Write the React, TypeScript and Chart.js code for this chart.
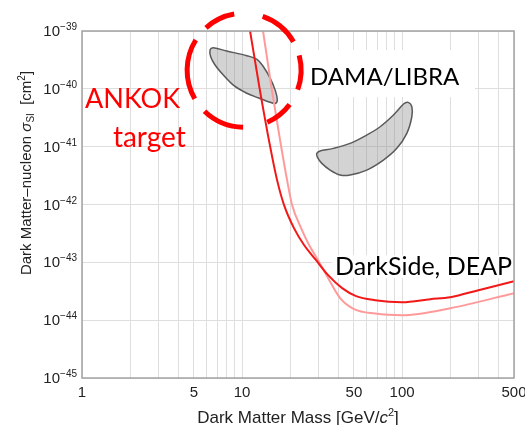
import { useEffect, useRef } from "react";
import { Chart, registerables } from "chart.js";

Chart.register(...registerables);

// Axis ticks: every integer multiple of a decade gets a grid line on the mass axis
const massGrid = [1, 2, 3, 4, 5, 6, 7, 8, 9, 10, 20, 30, 40, 50, 60, 70, 80, 90, 100, 200, 300, 400, 500];
const massLabels = [1, 5, 10, 50, 100, 500];
const sigmaDecades = [-45, -44, -43, -42, -41, -40, -39];

// Exclusion limits: WIMP mass [GeV/c^2] vs spin-independent cross section [cm^2]
const limitMass = [11.22, 12.86, 14.96, 16.55, 18.3, 21.1, 24.4, 29.0, 34.5, 42.2, 51.6, 67.8, 100, 150, 200, 300, 500];
const limitSigma = [1e-39, 1.03e-40, 1.02e-41, 2.64e-42, 9.77e-43, 3.91e-43, 1.99e-43, 1.09e-43, 6.0e-44, 3.58e-44, 2.6e-44, 2.22e-44, 2.05e-44, 2.31e-44, 2.5e-44, 3.3e-44, 4.73e-44];
const paleLimitMass = [13.52, 15.29, 17.53, 19.11, 20.54, 23.38, 26.23, 29.85, 34.5, 40.97, 50.1, 67.8, 100, 200, 500];
const paleLimitSigma = [1e-39, 1.03e-40, 1.02e-41, 2.64e-42, 9.77e-43, 3.91e-43, 1.99e-43, 1.09e-43, 5.33e-44, 2.4e-44, 1.55e-44, 1.3e-44, 1.22e-44, 1.61e-44, 2.93e-44];

// DAMA/LIBRA allowed regions (closed contours)
const damaLowMass = [6.31, 6.62, 8.02, 10.7, 12.4, 13.6, 15.0, 16.1, 16.6, 16.1, 14.6, 12.6, 10.7, 8.82, 7.64, 6.78, 6.37];
const damaLowSigma = [4.69e-40, 5.14e-40, 4.51e-40, 3.74e-40, 3.24e-40, 2.41e-40, 1.52e-40, 9.5e-41, 6.4e-41, 5.6e-41, 6.0e-41, 7.0e-41, 8.4e-41, 1.16e-40, 1.73e-40, 2.58e-40, 3.59e-40];
const damaHighMass = [29.3, 31.0, 37.2, 47.3, 60.1, 72.9, 88.3, 102, 109, 115, 115, 107, 92.7, 76.4, 60.1, 47.3, 41.0, 35.5, 31.5, 29.6];
const damaHighSigma = [7.66e-42, 8.5e-42, 9.35e-42, 1.14e-41, 1.59e-41, 2.21e-41, 3.52e-41, 5.46e-41, 5.84e-41, 4.9e-41, 3.29e-41, 1.7e-41, 9.35e-42, 5.86e-42, 3.94e-42, 3.23e-42, 3.23e-42, 3.94e-42, 5.14e-42, 6.53e-42];

// Highlighted target region (centre in data units)
const targetMass = [10.3];
const targetSigma = [2.1e-40];

// Annotations, anchored at the left end of the text baseline
const noteText = ["ANKOK", "target", "DAMA/LIBRA", "DarkSide, DEAP"];
const noteMass = [1.044, 1.56, 26.6, 38.1];
const noteSigma = [4.65e-41, 1.0e-41, 1.16e-40, 6.0e-44];

const SANS = '"Liberation Sans", Arial, sans-serif';
const NOTE = 'Lato, "Open Sans", sans-serif';
const RED = "#ff0000";

type Run = { t: string; f: string; dy?: number };

function runsWidth(ctx: CanvasRenderingContext2D, runs: Run[]) {
  let w = 0;
  for (const r of runs) {
    ctx.font = r.f;
    w += ctx.measureText(r.t).width;
  }
  return w;
}

function drawRuns(ctx: CanvasRenderingContext2D, runs: Run[], x: number, y: number, align: "left" | "center" | "right") {
  const w = runsWidth(ctx, runs);
  let cx = align === "left" ? x : align === "center" ? x - w / 2 : x - w;
  ctx.textAlign = "left";
  ctx.textBaseline = "alphabetic";
  for (const r of runs) {
    ctx.font = r.f;
    ctx.fillText(r.t, cx, y + (r.dy || 0));
    cx += ctx.measureText(r.t).width;
  }
}

function closedSpline(ctx: CanvasRenderingContext2D, p: number[][]) {
  const n = p.length;
  ctx.beginPath();
  ctx.moveTo(p[0][0], p[0][1]);
  for (let i = 0; i < n; i++) {
    const p0 = p[(i - 1 + n) % n], p1 = p[i], p2 = p[(i + 1) % n], p3 = p[(i + 2) % n];
    ctx.bezierCurveTo(
      p1[0] + (p2[0] - p0[0]) / 6, p1[1] + (p2[1] - p0[1]) / 6,
      p2[0] - (p3[0] - p1[0]) / 6, p2[1] - (p3[1] - p1[1]) / 6,
      p2[0], p2[1]
    );
  }
  ctx.closePath();
}

// per-annotation look: colour, font size, white panel [left, top, right, bottom] around the anchor
const noteLook = [
  { color: RED, size: 27, panel: null as null | number[] },
  { color: RED, size: 28, panel: null as null | number[] },
  { color: "#000", size: 24, panel: [-7, -35, 165, 12] },
  { color: "#000", size: 25, panel: [-3, -20, 178, 3] },
];

// dashed ring pieces, degrees clockwise from +x
const ringDashes = [[-15, 20], [37, 66], [91, 134], [150, 212], [228, 260], [289, 330]];

const overlay = {
  id: "overlay",
  beforeDatasetsDraw(chart: any) {
    const { ctx } = chart;
    const x = chart.scales.x, y = chart.scales.y;
    ctx.save();
    ctx.fillStyle = "#ffffff";
    noteText.forEach((_, i) => {
      const pan = noteLook[i].panel;
      if (!pan) return;
      const px = x.getPixelForValue(noteMass[i]);
      const py = y.getPixelForValue(noteSigma[i]);
      ctx.fillRect(px + pan[0], py + pan[1], pan[2] - pan[0], pan[3] - pan[1]);
    });
    const regions: [number[], number[]][] = [[damaLowMass, damaLowSigma], [damaHighMass, damaHighSigma]];
    for (const [ms, ss] of regions) {
      const pts = ms.map((m, i) => [x.getPixelForValue(m), y.getPixelForValue(ss[i])]);
      closedSpline(ctx, pts);
      ctx.fillStyle = "rgba(140,140,140,0.38)";
      ctx.fill();
      ctx.strokeStyle = "#5a5a5a";
      ctx.lineWidth = 1.5;
      ctx.stroke();
    }
    ctx.restore();
  },
  afterDatasetsDraw(chart: any) {
    const { ctx, chartArea: a } = chart;
    const x = chart.scales.x, y = chart.scales.y;
    ctx.save();
    // plot frame
    ctx.strokeStyle = "#a3a3a3";
    ctx.lineWidth = 1.5;
    ctx.strokeRect(a.left, a.top, a.right - a.left, a.bottom - a.top);

    // annotations
    noteText.forEach((t, i) => {
      ctx.fillStyle = noteLook[i].color;
      ctx.font = `${noteLook[i].size}px ${NOTE}`;
      ctx.textAlign = "left";
      ctx.textBaseline = "alphabetic";
      ctx.fillText(t, x.getPixelForValue(noteMass[i]), y.getPixelForValue(noteSigma[i]));
    });

    // dashed ring around the low-mass region
    const cx = x.getPixelForValue(targetMass[0]);
    const cy = y.getPixelForValue(targetSigma[0]);
    ctx.strokeStyle = RED;
    ctx.lineWidth = 5;
    ctx.lineCap = "butt";
    for (const [s, e] of ringDashes) {
      ctx.beginPath();
      ctx.arc(cx, cy, 57, (s * Math.PI) / 180, (e * Math.PI) / 180);
      ctx.stroke();
    }

    // tick labels
    ctx.fillStyle = "#222";
    for (const e of sigmaDecades) {
      const py = y.getPixelForValue(Math.pow(10, e));
      drawRuns(ctx, [
        { t: "10", f: `15px ${SANS}` },
        { t: "\u2212" + Math.abs(e), f: `10px ${SANS}`, dy: -6 },
      ], a.left - 5, py + 5, "right");
    }
    ctx.font = `15px ${SANS}`;
    ctx.textAlign = "center";
    ctx.textBaseline = "alphabetic";
    for (const m of massLabels) {
      ctx.fillText(String(m), x.getPixelForValue(m), a.bottom + 19);
    }

    // axis titles
    drawRuns(ctx, [
      { t: "Dark Matter Mass [GeV/", f: `17px ${SANS}` },
      { t: "c", f: `italic 17px ${SANS}` },
      { t: "2", f: `11px ${SANS}`, dy: -7 },
      { t: "]", f: `17px ${SANS}` },
    ], (a.left + a.right) / 2, a.bottom + 45, "center");

    ctx.translate(31, 173);
    ctx.rotate(-Math.PI / 2);
    drawRuns(ctx, [
      { t: "Dark Matter\u2013nucleon ", f: `15px ${SANS}` },
      { t: "\u03c3", f: `italic 15px ${SANS}` },
      { t: "SI", f: `10px ${SANS}`, dy: 3 },
      { t: "  [cm", f: `15px ${SANS}` },
      { t: "2", f: `10px ${SANS}`, dy: -6 },
      { t: "]", f: `15px ${SANS}` },
    ], 0, 0, "center");
    ctx.restore();
  },
};

export default function App() {
  const canvasRef = useRef<HTMLCanvasElement | null>(null);

  useEffect(() => {
    const canvas = canvasRef.current;
    if (!canvas) return;
    const chart = new Chart(canvas, {
      type: "line",
      data: {
        datasets: [
          {
            label: "limit",
            data: limitMass.map((m, i) => ({ x: m, y: limitSigma[i] })),
            borderColor: "#f21818",
            borderWidth: 2,
            pointRadius: 0,
            cubicInterpolationMode: "monotone",
            fill: false,
          },
          {
            label: "limit (pale)",
            data: paleLimitMass.map((m, i) => ({ x: m, y: paleLimitSigma[i] })),
            borderColor: "#ff9a9a",
            borderWidth: 2,
            pointRadius: 0,
            cubicInterpolationMode: "monotone",
            fill: false,
          },
        ],
      },
      options: {
        responsive: false,
        animation: false,
        devicePixelRatio: 1,
        layout: { padding: { left: 82, top: 31, right: 11, bottom: 47 } },
        plugins: { legend: { display: false }, tooltip: { enabled: false } },
        scales: {
          x: {
            type: "logarithmic",
            min: 1,
            max: 500,
            afterBuildTicks: (s: any) => {
              s.ticks = massGrid.map((v) => ({ value: v }));
            },
            ticks: { display: false },
            grid: { color: "#dedede", lineWidth: 1, drawTicks: false },
            border: { display: false },
          },
          y: {
            type: "logarithmic",
            min: 1e-45,
            max: 1e-39,
            afterBuildTicks: (s: any) => {
              s.ticks = sigmaDecades.map((e) => ({ value: Math.pow(10, e) }));
            },
            ticks: { display: false },
            grid: { color: "#dedede", lineWidth: 1, drawTicks: false },
            border: { display: false },
          },
        },
      },
      plugins: [overlay],
    } as any);
    return () => chart.destroy();
  }, []);

  return (
    <div style={{ position: "absolute", left: 0, top: 0, width: 525, height: 425, background: "#fff" }}>
      <canvas ref={canvasRef} width={525} height={425} style={{ display: "block" }} />
    </div>
  );
}
